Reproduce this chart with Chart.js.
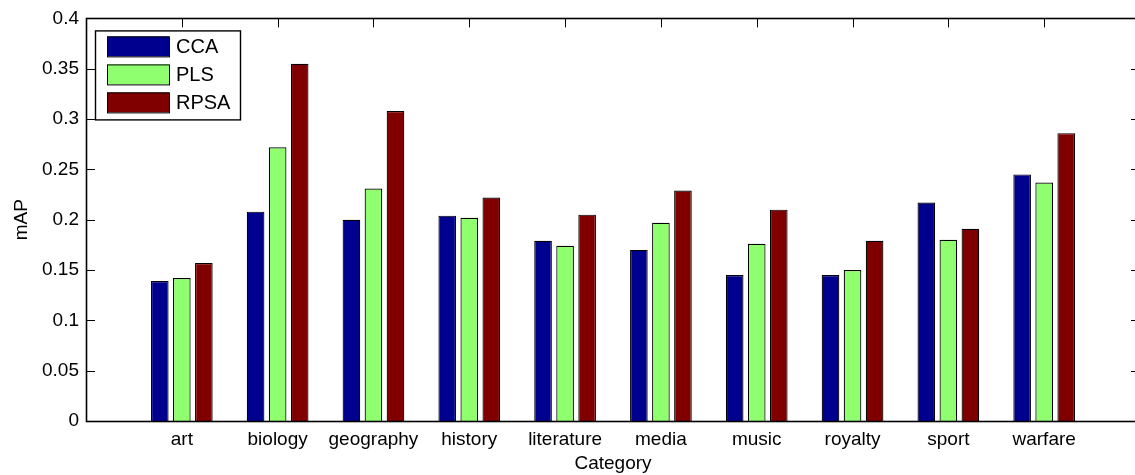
<!DOCTYPE html>
<html>
<head>
<meta charset="utf-8">
<script src="https://cdn.jsdelivr.net/npm/chart.js@4/dist/chart.umd.min.js"></script>
<style>
  html, body { margin: 0; padding: 0; background: #fff; overflow: hidden; }
  canvas { display: block; }
</style>
</head>
<body>
<canvas id="chart" width="1150" height="475"></canvas>
<script>
// Mean average precision per category for three retrieval methods
const categories = ['art', 'biology', 'geography', 'history', 'literature', 'media', 'music', 'royalty', 'sport', 'warfare'];
const seriesNames = ['CCA', 'PLS', 'RPSA'];
const ccaValues  = [0.139, 0.208, 0.200, 0.204, 0.179, 0.170, 0.145, 0.145, 0.217, 0.245];
const plsValues  = [0.142, 0.272, 0.231, 0.202, 0.174, 0.197, 0.176, 0.150, 0.180, 0.237];
const rpsaValues = [0.157, 0.355, 0.308, 0.222, 0.205, 0.229, 0.210, 0.179, 0.191, 0.286];
const yTickValues = [0, 0.05, 0.1, 0.15, 0.2, 0.25, 0.3, 0.35, 0.4];
const yTickLabels = ['0', '0.05', '0.1', '0.15', '0.2', '0.25', '0.3', '0.35', '0.4'];
const seriesColors = ['#00008f', '#8fff70', '#800000'];

const FONT = 'Liberation Sans, Arial, Helvetica, sans-serif';

// Axis range runs one empty slot past each end, so pad with blank labels
const labels = [''].concat(categories, ['']);
const pad = arr => [null].concat(arr, [null]);

const seriesValues = [ccaValues, plsValues, rpsaValues];
const datasets = seriesNames.map((name, i) => ({
  label: name,
  data: pad(seriesValues[i]),
  backgroundColor: seriesColors[i],
  borderColor: '#000',
  borderWidth: 1.2,
  categoryPercentage: 0.69,
  barPercentage: 0.8
}));

const TICK_LEN = 9;

// Ticks under the bars (bottom axis), frame and other ticks above them
const boxAxes = {
  id: 'boxAxes',
  beforeDatasetsDraw(chart) {
    const { ctx, chartArea: a, scales: { x } } = chart;
    ctx.save();
    ctx.strokeStyle = '#000';
    ctx.lineWidth = 1;
    ctx.beginPath();
    for (let i = 1; i <= categories.length; i++) {
      const px = Math.round(x.getPixelForValue(i)) + 0.5;
      ctx.moveTo(px, a.bottom);
      ctx.lineTo(px, a.bottom - TICK_LEN);
    }
    ctx.stroke();
    ctx.restore();
  },
  afterDatasetsDraw(chart) {
    const { ctx, chartArea: a, scales: { x, y } } = chart;
    ctx.save();
    ctx.strokeStyle = '#000';
    ctx.lineWidth = 1;
    ctx.beginPath();
    for (const v of yTickValues) {
      const py = Math.round(y.getPixelForValue(v)) + 0.5;
      ctx.moveTo(a.left, py);
      ctx.lineTo(a.left + TICK_LEN, py);
      ctx.moveTo(a.right, py);
      ctx.lineTo(a.right - TICK_LEN, py);
    }
    for (let i = 1; i <= categories.length; i++) {
      const px = Math.round(x.getPixelForValue(i)) + 0.5;
      ctx.moveTo(px, a.top);
      ctx.lineTo(px, a.top + TICK_LEN);
    }
    ctx.stroke();
    ctx.lineWidth = 1.6;
    ctx.strokeRect(Math.round(a.left) + 0.5, Math.round(a.top) + 0.5,
                   Math.round(a.right - a.left), Math.round(a.bottom - a.top));
    ctx.restore();
  },
  afterDraw(chart) {
    // Boxed legend in the upper-left corner of the plot
    const { ctx, chartArea: a } = chart;
    const bx = a.left + 9, by = a.top + 12, bw = 145, bh = 89;
    ctx.save();
    ctx.fillStyle = '#fff';
    ctx.fillRect(bx, by, bw, bh);
    ctx.strokeStyle = '#000';
    ctx.lineWidth = 1.4;
    ctx.strokeRect(bx + 0.5, by + 0.5, bw, bh);
    ctx.font = '20px ' + FONT;
    ctx.textBaseline = 'middle';
    ctx.textAlign = 'left';
    chart.data.datasets.forEach((ds, i) => {
      const sy = by + 6 + i * 28;
      ctx.fillStyle = ds.backgroundColor;
      ctx.fillRect(bx + 12, sy, 62, 20);
      ctx.lineWidth = 1;
      ctx.strokeStyle = '#000';
      ctx.strokeRect(bx + 12.5, sy + 0.5, 62, 20);
      ctx.fillStyle = '#000';
      ctx.fillText(ds.label, bx + 81, sy + 11);
    });
    ctx.restore();
  }
};

new Chart(document.getElementById('chart'), {
  type: 'bar',
  data: { labels, datasets },
  options: {
    responsive: false,
    animation: false,
    layout: { padding: { left: 0, top: 17, right: 10, bottom: 0 } },
    plugins: {
      legend: { display: false },
      tooltip: { enabled: false }
    },
    scales: {
      x: {
        type: 'category',
        offset: false,
        grid: { display: false, drawTicks: false },
        border: { display: false },
        ticks: {
          autoSkip: false,
          maxRotation: 0,
          padding: 7,
          color: '#000',
          font: { family: FONT, size: 19 }
        },
        title: {
          display: true,
          text: 'Category',
          color: '#000',
          font: { family: FONT, size: 19 },
          padding: { top: 0, bottom: 0 }
        },
        afterFit(s) { s.height = 54; }
      },
      y: {
        min: 0,
        max: 0.4,
        grid: { display: false, drawTicks: false },
        border: { display: false },
        afterBuildTicks(s) { s.ticks = yTickValues.map(v => ({ value: v })); },
        ticks: {
          padding: 7,
          color: '#000',
          font: { family: FONT, size: 19 },
          callback: (v, i) => yTickLabels[i]
        },
        title: {
          display: true,
          text: 'mAP',
          color: '#000',
          font: { family: FONT, size: 19 },
          padding: { top: 10, bottom: 0 }
        },
        afterFit(s) { s.width = 86; }
      }
    }
  },
  plugins: [boxAxes]
});
</script>
</body>
</html>
